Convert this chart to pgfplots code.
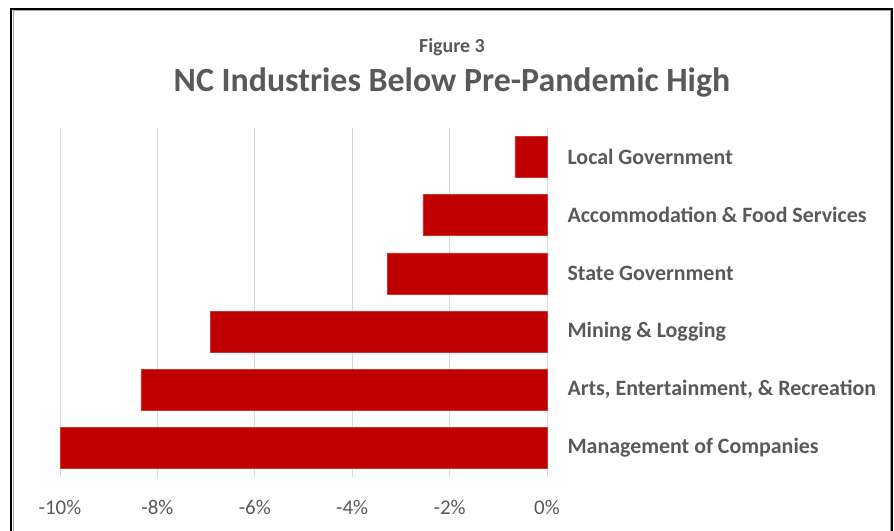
\documentclass[border=0pt]{standalone}
\usepackage{pgfplots}
\pgfplotsset{compat=1.18}
\usepackage{fontspec}
\setmainfont{Carlito}
\definecolor{barred}{HTML}{C00000}
\definecolor{txtgray}{HTML}{595959}
\definecolor{gridgray}{HTML}{D9D9D9}
\begin{document}
\begin{tikzpicture}[x=1bp,y=1bp]
\path[use as bounding box] (0,0) rectangle (894,531);
\draw[black, line width=2bp] (11,0) -- (11,522) -- (892,522) -- (892,0);
\draw[gray!70, line width=1bp] (13,0) -- (13,520.5) -- (890.5,520.5) -- (890.5,0);
\node[font=\fontsize{20}{24}\selectfont\bfseries, text=txtgray] at (452,484) {Figure 3};
\node[font=\fontsize{34}{40}\selectfont\bfseries, text=txtgray] at (452,449) {NC Industries Below Pre-Pandemic High};
\begin{axis}[
  at={(60bp,54bp)}, anchor=south west,
  scale only axis, width=487bp, height=349bp,
  xbar, bar width=41bp,
  xmin=-10, xmax=0, ymin=-0.5, ymax=5.5,
  axis line style={draw=none},
  xtick={-10,-8,-6,-4,-2,0},
  xticklabels={-10\%,-8\%,-6\%,-4\%,-2\%,0\%},
  xmajorgrids, grid style={gridgray, line width=1bp},
  major tick length=0pt,
  ytick={0,1,2,3,4,5},
  yticklabels={Management of Companies, {Arts, Entertainment, \& Recreation}, Mining \& Logging, State Government, Accommodation \& Food Services, Local Government},
  yticklabel pos=right,
  yticklabel style={font=\fontsize{22}{26}\selectfont\bfseries, text=txtgray, anchor=west, xshift=17bp},
  xticklabel style={font=\fontsize{21}{25}\selectfont, text=txtgray, yshift=-20bp},
  clip=false,
]
\addplot[fill=barred, draw=barred!80!white, line width=0.5bp] coordinates {
  (-10.0,0) (-8.34,1) (-6.92,2) (-3.28,3) (-2.55,4) (-0.66,5)
};
\end{axis}
\end{tikzpicture}
\end{document}
